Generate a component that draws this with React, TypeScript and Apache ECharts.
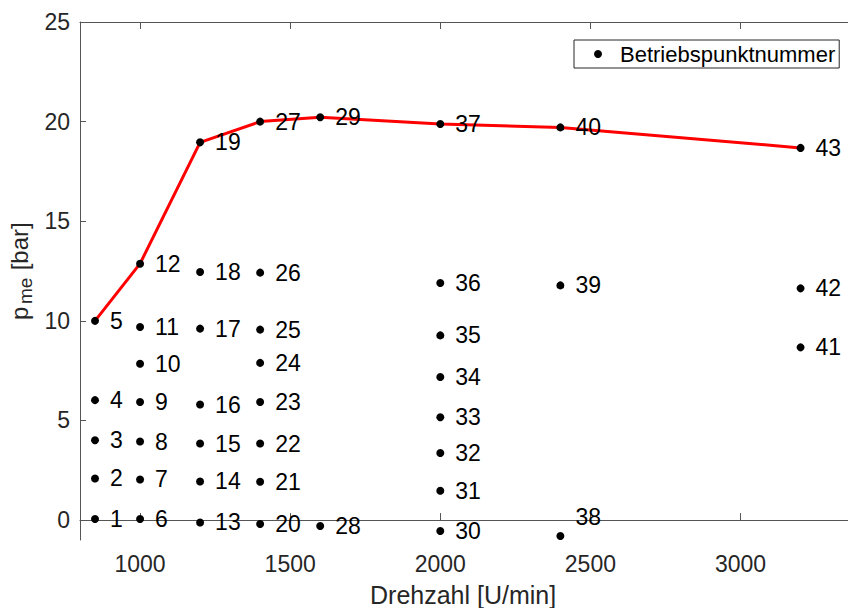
import React, { useEffect, useRef } from "react";
import * as echarts from "echarts";

// Operating points: engine speed [U/min], BMEP [bar], point number
const speed = [
  850, 850, 850, 850, 850,
  1000, 1000, 1000, 1000, 1000, 1000, 1000,
  1200, 1200, 1200, 1200, 1200, 1200, 1200,
  1400, 1400, 1400, 1400, 1400, 1400, 1400, 1400,
  1600, 1600,
  2000, 2000, 2000, 2000, 2000, 2000, 2000, 2000,
  2400, 2400, 2400,
  3200, 3200, 3200,
];
const pme = [
  0.05, 2.09, 4.01, 6.02, 10.0,
  0.05, 2.04, 3.94, 5.93, 7.85, 9.69, 12.87,
  -0.12, 1.94, 3.84, 5.8, 9.61, 12.45, 18.96,
  -0.2, 1.92, 3.84, 5.93, 7.89, 9.56, 12.42, 20.0,
  -0.3, 20.22,
  -0.55, 1.47, 3.37, 5.16, 7.18, 9.27, 11.9, 19.88,
  -0.8, 11.78, 19.71,
  8.67, 11.63, 18.68,
];
const pointNo = [
  1, 2, 3, 4, 5,
  6, 7, 8, 9, 10, 11, 12,
  13, 14, 15, 16, 17, 18, 19,
  20, 21, 22, 23, 24, 25, 26, 27,
  28, 29,
  30, 31, 32, 33, 34, 35, 36, 37,
  38, 39, 40,
  41, 42, 43,
];
// Points on the full-load curve
const fullLoadPoints = [5, 12, 19, 27, 29, 37, 40, 43];

const xTicks = [1000, 1500, 2000, 2500, 3000];
const yTicks = [0, 5, 10, 15, 20, 25];

const FONT = "'Liberation Sans', Arial, Helvetica, sans-serif";
const AX = "#262626";

export default function App() {
  const ref = useRef<HTMLDivElement>(null);

  useEffect(() => {
    if (!ref.current) return;
    const chart = echarts.init(ref.current, undefined, { renderer: "svg" });

    const scatterData = pointNo.map((n, i) => {
      const item: any = { value: [speed[i], pme[i], n] };
      if (n === 38) item.label = { offset: [0, -19] };
      return item;
    });
    const lineData = fullLoadPoints.map((n) => {
      const i = pointNo.indexOf(n);
      return [speed[i], pme[i]];
    });

    const axisCommon = {
      type: "value" as const,
      splitLine: { show: false },
      axisLine: { show: true, lineStyle: { color: "#555", width: 1 } },
    };

    chart.setOption({
      animation: false,
      backgroundColor: "#ffffff",
      grid: { left: 80, right: 0, top: 22, bottom: 68, containLabel: false },
      xAxis: [
        {
          ...axisCommon,
          position: "bottom",
          min: 800,
          max: 3358,
          axisTick: {
            inside: true,
            length: 7,
            customValues: xTicks,
            lineStyle: { color: "#555" },
          },
          axisLabel: {
            customValues: xTicks,
            formatter: (v: number) => String(v),
            color: AX,
            fontSize: 23,
            fontFamily: FONT,
            margin: 12,
          },
        },
        {
          ...axisCommon,
          position: "top",
          min: 800,
          max: 3358,
          axisTick: {
            inside: true,
            length: 7,
            customValues: xTicks,
            lineStyle: { color: "#555" },
          },
          axisLabel: { show: false },
        },
      ],
      yAxis: {
        ...axisCommon,
        min: -1,
        max: 25,
        axisTick: {
          inside: true,
          length: 6,
          customValues: yTicks,
          lineStyle: { color: "#555" },
        },
        axisLabel: {
          customValues: yTicks,
          formatter: (v: number) => String(v),
          color: AX,
          fontSize: 23,
          fontFamily: FONT,
          margin: 10,
        },
      },
      legend: {
        data: ["Betriebspunktnummer"],
        left: 574,
        top: 40,
        orient: "horizontal",
        icon: "circle",
        itemWidth: 8,
        itemHeight: 8,
        padding: [3, 4, 3, 20],
        borderColor: AX,
        borderWidth: 1,
        borderRadius: 0,
        backgroundColor: "#ffffff",
        textStyle: {
          color: "#000",
          fontSize: 22,
          fontFamily: FONT,
          lineHeight: 22,
          padding: [0, 0, 0, 13],
        },
      },
      graphic: [
        {
          type: "text",
          left: 470 - 100,
          top: 582,
          style: {
            text: "Drehzahl [U/min]",
            fontSize: 25,
            fontFamily: FONT,
            fill: AX,
            width: 200,
            align: "center",
          },
        },
        {
          type: "group",
          x: 19,
          y: 322,
          rotation: Math.PI / 2,
          children: [
            {
              type: "text",
              x: 2,
              y: 0,
              style: { text: "p", fontSize: 24, fontFamily: FONT, fill: AX, verticalAlign: "middle", align: "left" },
            },
            {
              type: "text",
              x: 18,
              y: 6,
              style: { text: "me", fontSize: 19, fontFamily: FONT, fill: AX, verticalAlign: "middle", align: "left" },
            },
            {
              type: "text",
              x: 45,
              y: 0,
              style: { text: " [bar]", fontSize: 24, fontFamily: FONT, fill: AX, verticalAlign: "middle", align: "left" },
            },
          ],
        },
      ],
      series: [
        {
          name: "Volllast",
          type: "line",
          data: lineData,
          showSymbol: false,
          symbol: "none",
          lineStyle: { color: "#ff0000", width: 3 },
          z: 2,
        },
        {
          name: "Betriebspunktnummer",
          type: "scatter",
          data: scatterData,
          symbol: "circle",
          symbolSize: 8,
          itemStyle: { color: "#000000", opacity: 1 },
          label: {
            show: true,
            position: "right",
            distance: 11,
            formatter: (p: any) => String(p.value[2]),
            color: "#000",
            fontSize: 23,
            fontFamily: FONT,
          },
          z: 3,
        },
      ],
    });

    return () => chart.dispose();
  }, []);

  return (
    <div
      ref={ref}
      style={{ position: "fixed", left: 0, top: 0, width: 848, height: 608, background: "#fff" }}
    />
  );
}
